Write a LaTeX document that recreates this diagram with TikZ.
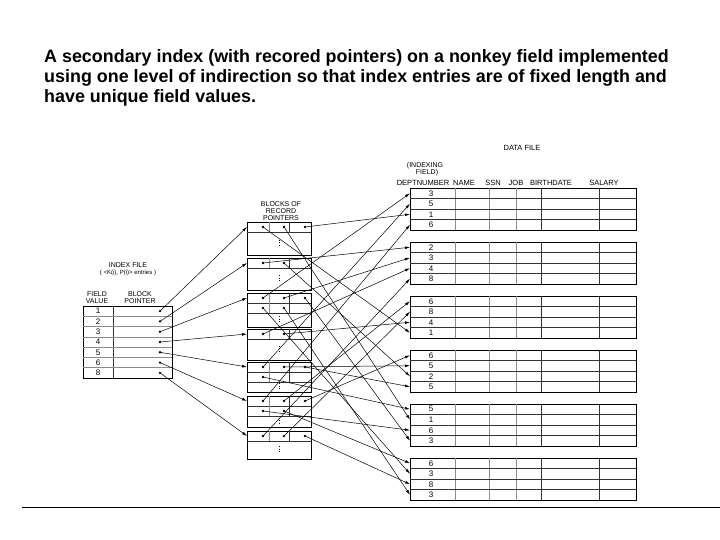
\documentclass[tikz,border=0pt]{standalone}
\usepackage{fontspec}
\setmainfont{Liberation Sans}
\usetikzlibrary{arrows.meta}
\begin{document}
\begin{tikzpicture}[x=1pt,y=-1pt,
  lbl/.style={font=\fontsize{7}{7}\selectfont, inner sep=0pt},
  hdr/.style={font=\fontsize{7.5}{7.5}\selectfont, inner sep=0pt},
  num/.style={font=\fontsize{8}{8}\selectfont, inner sep=0pt},
  ptr/.style={circle, fill=black, inner sep=0pt, minimum size=2.6pt},
  arr/.style={-{Latex[length=5pt,width=2.8pt]}, line width=0.5pt},
  grid/.style={line width=0.6pt, black!80},
  gridg/.style={line width=0.6pt, black!45},
  frame/.style={line width=0.8pt, black},
  vdot/.style={line width=0.9pt, dash pattern=on 0.9pt off 1.8pt}]
\useasboundingbox (0,0) rectangle (720,540);

% title
\node[anchor=north west, font=\bfseries\fontsize{17.9}{20}\selectfont, align=left, inner sep=0pt] (title) at (44,49)
 {A secondary index (with recored pointers) on a nonkey field implemented\\using one level of indirection so that index entries are of fixed length and\\have unique field values.};
\draw[line width=0.8pt] (22,507) -- (720,507);

% ---------------- index file
\node[lbl] (idxt) at (128,265) {INDEX FILE};
\node[lbl, font=\fontsize{6}{6}\selectfont] (idxs) at (128,273) {( <K(i), P(i)> entries )};
\node[lbl] (fv1) at (97,294) {FIELD};
\node[lbl] (fv2) at (97,301) {VALUE};
\node[lbl] (bp1) at (140,294) {BLOCK};
\node[lbl] (bp2) at (140,301) {POINTER};
\draw[frame] (83,306) rectangle (172,378);
\draw[grid] (113,306) -- (113,378);
\foreach \i in {1,...,6} \draw[gridg] (83,{306+10.286*\i}) -- (172,{306+10.286*\i});
\foreach \v [count=\i] in {1,2,3,4,5,6,8} {
  \node[num] (iv\i) at (98,{306+10.286*\i-5.143}) {\v};
  \node[ptr] (ix\i) at (160,{306+10.286*\i-5.143}) {};
}

% ---------------- blocks of record pointers
\node[lbl] (brp1) at (281,204) {BLOCKS OF};
\node[lbl] (brp2) at (281,211) {RECORD};
\node[lbl] (brp3) at (281,218) {POINTERS};
\foreach \top/\h/\na/\nb [count=\b] in {222/33/3/0, 258/32/2/0, 293/34/3/2, 329/31/2/0, 362/30/3/1, 396/31/3/2, 431/28/3/0} {
  \pgfmathtruncatemacro\rows{\nb>0 ? 2 : 1}
  \draw[frame] (247,\top) rectangle (311,\top+\h);
  \draw[grid] (247,\top+10) -- (311,\top+10);
  \ifnum\nb>0 \draw[grid] (247,\top+20) -- (311,\top+20); \fi
  \draw[gridg] (269,\top) -- (269,\top+10*\rows);
  \draw[grid] (289,\top) -- (289,\top+10*\rows);
  \pgfmathsetmacro\mid{(\top+10*\rows+\top+\h)/2}
  \draw[vdot] (279,\mid-4) -- (279,\mid+4);
  \coordinate (bk\b) at (247,\top+5);
  \foreach \i in {1,...,\na} \node[ptr] (q\b-\i) at ({242+21*\i},\top+5) {};
  \ifnum\nb>0
    \foreach \i in {1,...,\nb} {
      \pgfmathtruncatemacro\m{\na+\i}
      \node[ptr] (q\b-\m) at ({242+21*\i},\top+15) {};
    }
  \fi
}

% ---------------- data file
\node[hdr] (df) at (522,148) {DATA FILE};
\node[lbl] (if1) at (425,166) {(INDEXING};
\node[lbl] (if2) at (427,173) {FIELD)};
\node[hdr] (h1) at (423,183) {DEPTNUMBER};
\node[hdr] (h2) at (464,183) {NAME};
\node[hdr] (h3) at (493,183) {SSN};
\node[hdr] (h4) at (516,183) {JOB};
\node[hdr] (h5) at (551,183) {BIRTHDATE};
\node[hdr] (h6) at (604,183) {SALARY};
\foreach \vals [count=\k] in {{3,5,1,6},{2,3,4,8},{6,8,4,1},{6,5,2,5},{5,1,6,3},{6,3,8,3}} {
  \pgfmathsetmacro\T{188+54*(\k-1)}
  \draw[frame] (410,\T) rectangle (636,\T+42);
  \foreach \x in {455,489,516} \draw[gridg] (\x,\T) -- (\x,\T+42);
  \foreach \x in {541,599} \draw[grid] (\x,\T) -- (\x,\T+42);
  \foreach \j in {1,2,3} \draw[grid] (410,\T+10.5*\j) -- (636,\T+10.5*\j);
  \foreach \v [count=\j] in \vals {
    \coordinate (r\k-\j) at (410,\T+10.5*\j-5.25);
    \node[num] (d\k-\j) at (431,\T+10.5*\j-5.25) {\v};
  }
}

% ---------------- connectors
\foreach \i in {1,...,7} \draw[arr] (ix\i.center) -- (bk\i);
\foreach \s/\t in {q1-1/r3-4, q1-2/r5-2, q1-3/r1-3,
  q2-1/r2-1, q2-2/r4-3,
  q3-1/r1-1, q3-2/r2-2, q3-3/r5-4, q3-4/r6-2, q3-5/r6-4,
  q4-1/r2-3, q4-2/r3-3,
  q5-1/r1-2, q5-2/r4-2, q5-3/r4-4, q5-4/r5-1,
  q6-1/r1-4, q6-2/r3-1, q6-3/r4-1, q6-4/r5-3, q6-5/r6-1,
  q7-1/r2-4, q7-2/r3-2, q7-3/r6-3}
  \draw[arr] (\s.center) -- (\t);
\end{tikzpicture}
\end{document}
